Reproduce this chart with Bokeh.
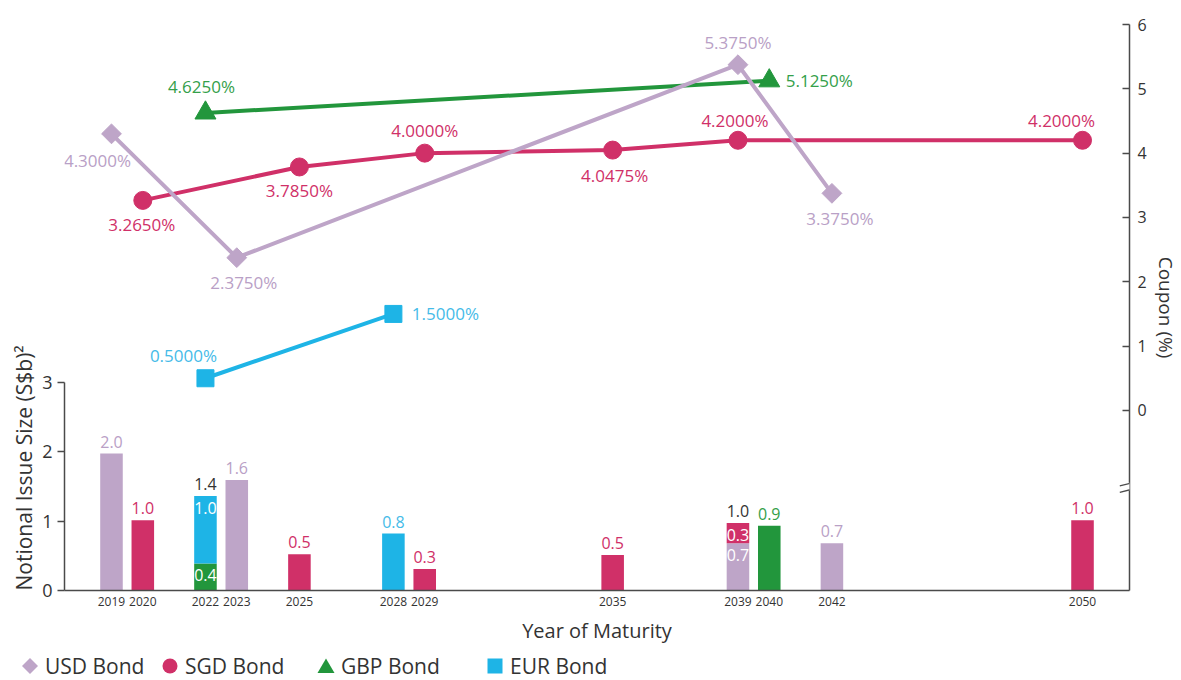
import math
from bokeh.plotting import figure
from bokeh.layouts import column
from bokeh.models import (Range1d, LinearAxis, FixedTicker, ColumnDataSource, LabelSet,
                          Title, Arrow, Div)
from bokeh.core.properties import value
from bokeh.embed import file_html
from bokeh.resources import INLINE

# ---------------- data ----------------
year_ticks = [2019, 2020, 2022, 2023, 2025, 2028, 2029, 2035, 2039, 2040, 2042, 2050]
coupon_ticks = [0, 1, 2, 3, 4, 5, 6]
size_ticks = [0, 1, 2, 3]

# notional issue size (S$b) bars
usd_bar_years = [2019, 2023, 2039, 2042]
usd_bar_vals = [1.97, 1.59, 0.68, 0.68]
gbp_bar_years = [2022, 2040]
gbp_bar_vals = [0.39, 0.93]
sgd_bar_years = [2020, 2025, 2029, 2035, 2039, 2050]
sgd_bar_vals = [1.01, 0.52, 0.31, 0.51, 0.29, 1.01]
eur_bar_years = [2022, 2028]
eur_bar_vals = [0.97, 0.82]

# coupons (%)
usd_cpn_years = [2019, 2023, 2039, 2042]
usd_cpn = [4.3, 2.375, 5.375, 3.375]
sgd_cpn_years = [2020, 2025, 2029, 2035, 2039, 2050]
sgd_cpn = [3.265, 3.785, 4.0, 4.0475, 4.2, 4.2]
gbp_cpn_years = [2022, 2040]
gbp_cpn = [4.625, 5.125]
eur_cpn_years = [2022, 2028]
eur_cpn = [0.5, 1.5]

legend_names = ["USD Bond", "SGD Bond", "GBP Bond", "EUR Bond"]

# ---------------- style ----------------
FONT = "Open Sans"
C_USD = "#BEA5C8"
C_SGD = "#D03068"
C_GBP = "#22963C"
C_EUR = "#1EB4E6"
T_USD = "#B9A0C6"
T_SGD = "#D03068"
T_GBP = "#34A04A"
T_EUR = "#45BBE8"
DARK = "#333333"
AXIS = "#4a4a4a"

# label offsets (screen px, up positive)
usd_off = [(-14, -27), (7, -25), (0, 22), (8, -25)]
sgd_off = [(-1, -24), (0, -24), (0, 23), (2, -25), (-3, 20), (-21, 20)]
gbp_off = [(-4, 26), (50, 0)]
eur_off = [(-22, 23), (52, 0)]
legend_cx = [30, 170, 326, 495]   # centre of each legend marker (px)

p = figure(frame_width=1065, frame_height=566,
           x_range=Range1d(2017.5, 2051.5), y_range=Range1d(0, 8.144),
           output_backend="svg", toolbar_location=None,
           min_border_left=64, min_border_right=52, min_border_top=24, min_border_bottom=60)
p.extra_y_ranges = {"coupon": Range1d(-2.80, 6.0)}
p.outline_line_color = None
p.xgrid.grid_line_color = None
p.ygrid.grid_line_color = None
p.background_fill_color = "white"

# ---- axes ----
xa = p.xaxis[0]
xa.ticker = FixedTicker(ticks=year_ticks)
xa.major_tick_in = 0
xa.major_tick_out = 0
xa.minor_tick_in = 0
xa.minor_tick_out = 0
xa.minor_tick_line_color = None
xa.axis_line_color = AXIS
xa.axis_line_width = 1.5
xa.major_label_text_font = FONT
xa.major_label_text_font_size = "12px"
xa.major_label_text_color = DARK
xa.major_label_standoff = 6
xa.axis_label = "Year of Maturity"
xa.axis_label_text_font = FONT
xa.axis_label_text_font_size = "20px"
xa.axis_label_text_font_style = "normal"
xa.axis_label_text_color = DARK
xa.axis_label_standoff = 8

ya = p.yaxis[0]
ya.ticker = FixedTicker(ticks=size_ticks)
ya.bounds = (0, 3)
ya.major_tick_in = 0
ya.major_tick_out = 7
ya.minor_tick_out = 0
ya.minor_tick_line_color = None
ya.axis_line_color = AXIS
ya.axis_line_width = 1.5
ya.major_tick_line_color = AXIS
ya.major_tick_line_width = 1.5
ya.major_label_text_font = FONT
ya.major_label_text_font_size = "18px"
ya.major_label_text_color = DARK
ya.major_label_standoff = 5

# left axis title, starting at the frame bottom
p.add_layout(Title(text="Notional Issue Size (S$b)\u00b2", align="left", offset=0,
                   text_font=FONT, text_font_size="21px", text_font_style="normal",
                   text_color=DARK, standoff=3), "left")

ra = LinearAxis(y_range_name="coupon", ticker=FixedTicker(ticks=coupon_ticks))
ra.major_tick_in = 7
ra.major_tick_out = 0
ra.minor_tick_out = 0
ra.minor_tick_line_color = None
ra.axis_line_color = AXIS
ra.axis_line_width = 1.5
ra.major_tick_line_color = AXIS
ra.major_tick_line_width = 1.5
ra.major_label_text_font = FONT
ra.major_label_text_font_size = "16px"
ra.major_label_text_color = DARK
ra.major_label_standoff = 8
ra.axis_label = "Coupon (%)"
ra.axis_label_text_font = FONT
ra.axis_label_text_font_size = "19px"
ra.axis_label_text_font_style = "normal"
ra.axis_label_text_color = DARK
ra.axis_label_standoff = 3
p.add_layout(ra, "right")

# axis break on the right axis
p.add_layout(Arrow(end=None, x_start=2051.5, y_start=1.44, x_end=2051.5, y_end=1.55,
                   line_color="white", line_width=5, level="overlay"))
p.add_layout(Arrow(end=None, x_start=2051.19, y_start=1.504, x_end=2051.83, y_end=1.576,
                   line_color=AXIS, line_width=1.3, level="overlay"))
p.add_layout(Arrow(end=None, x_start=2051.19, y_start=1.413, x_end=2051.83, y_end=1.485,
                   line_color=AXIS, line_width=1.3, level="overlay"))

# ---- stacked bars ----
stack_order = [
    (usd_bar_years, usd_bar_vals, C_USD, T_USD),
    (gbp_bar_years, gbp_bar_vals, C_GBP, T_GBP),
    (sgd_bar_years, sgd_bar_vals, C_SGD, T_SGD),
    (eur_bar_years, eur_bar_vals, C_EUR, T_EUR),
]
counts = {}
for yrs, _, _, _ in stack_order:
    for y in yrs:
        counts[y] = counts.get(y, 0) + 1
base = {}
above = dict(x=[], y=[], text=[], color=[])
inner = dict(x=[], y=[], text=[])
for yrs, vals, col, tcol in stack_order:
    bottoms = [base.get(y, 0.0) for y in yrs]
    tops = [b + v for b, v in zip(bottoms, vals)]
    p.vbar(x=yrs, bottom=bottoms, top=tops, width=0.72, fill_color=col, line_color=None)
    for y, v, t in zip(yrs, vals, tops):
        base[y] = t
        if counts[y] > 1:
            inner["x"].append(y); inner["y"].append(t); inner["text"].append(f"{v:.1f}")
        else:
            above["x"].append(y); above["y"].append(t); above["text"].append(f"{v:.1f}")
            above["color"].append(tcol)
for y, n in counts.items():
    if n > 1:
        above["x"].append(y); above["y"].append(base[y]); above["text"].append(f"{base[y]:.1f}")
        above["color"].append(DARK)

p.add_layout(LabelSet(source=ColumnDataSource(above), x="x", y="y", text="text", y_offset=12,
                      text_align="center", text_baseline="middle", text_color="color",
                      text_font=value(FONT), text_font_size=value("16px")))
p.add_layout(LabelSet(source=ColumnDataSource(inner), x="x", y="y", text="text", y_offset=-12,
                      text_align="center", text_baseline="middle", text_color=value("white"),
                      text_font=value(FONT), text_font_size=value("16px")))

# ---- coupon lines ----
series = [
    ("EUR Bond", eur_cpn_years, eur_cpn, C_EUR, T_EUR, "square", 17, 0.0, eur_off),
    ("GBP Bond", gbp_cpn_years, gbp_cpn, C_GBP, T_GBP, "triangle", 21, 0.0, gbp_off),
    ("SGD Bond", sgd_cpn_years, sgd_cpn, C_SGD, T_SGD, "circle", 18, 0.0, sgd_off),
    ("USD Bond", usd_cpn_years, usd_cpn, C_USD, T_USD, "square", 14, math.pi / 4, usd_off),
]
for name, xs, ys, col, tcol, mk, sz, ang, off in series:
    p.line(xs, ys, line_color=col, line_width=4, y_range_name="coupon")
    p.scatter(xs, ys, marker=mk, size=sz, angle=ang, fill_color=col, line_color=col,
              y_range_name="coupon")
    src = ColumnDataSource(dict(x=xs, y=ys, text=[f"{v:.4f}%" for v in ys],
                                dx=[o[0] for o in off], dy=[o[1] for o in off]))
    p.add_layout(LabelSet(source=src, x="x", y="y", text="text", x_offset="dx", y_offset="dy",
                          y_range_name="coupon", text_align="center", text_baseline="middle",
                          text_color=value(tcol), text_font=value(FONT),
                          text_font_size=value("17px")))

# ---- legend strip below the chart ----
shapes = {
    "USD Bond": f'<polygon points="9,1 17,9 9,17 1,9" fill="{C_USD}"/>',
    "SGD Bond": f'<circle cx="9" cy="9" r="7.5" fill="{C_SGD}"/>',
    "GBP Bond": f'<polygon points="9,1.5 17.5,16 0.5,16" fill="{C_GBP}"/>',
    "EUR Bond": f'<rect x="1.5" y="1.5" width="15" height="15" fill="{C_EUR}"/>',
}
items = []
for name, cx in zip(legend_names, legend_cx):
    items.append(
        f'<div style="position:absolute;left:{cx - 9}px;top:0;height:32px;display:flex;'
        f'align-items:center;white-space:nowrap;">'
        f'<svg width="18" height="18" viewBox="0 0 18 18">{shapes[name]}</svg>'
        f'<span style="margin-left:6px;font-family:\'{FONT}\';font-size:21px;color:{DARK};">'
        f'{name}</span></div>')
legend_div = Div(text='<div style="position:relative;width:1181px;height:30px;">'
                 + "".join(items) + "</div>",
                 width=1181, height=30, margin=(0, 0, 0, 0))

layout = column(p, legend_div, spacing=0)
open("out.html", "w").write(file_html(layout, INLINE))
